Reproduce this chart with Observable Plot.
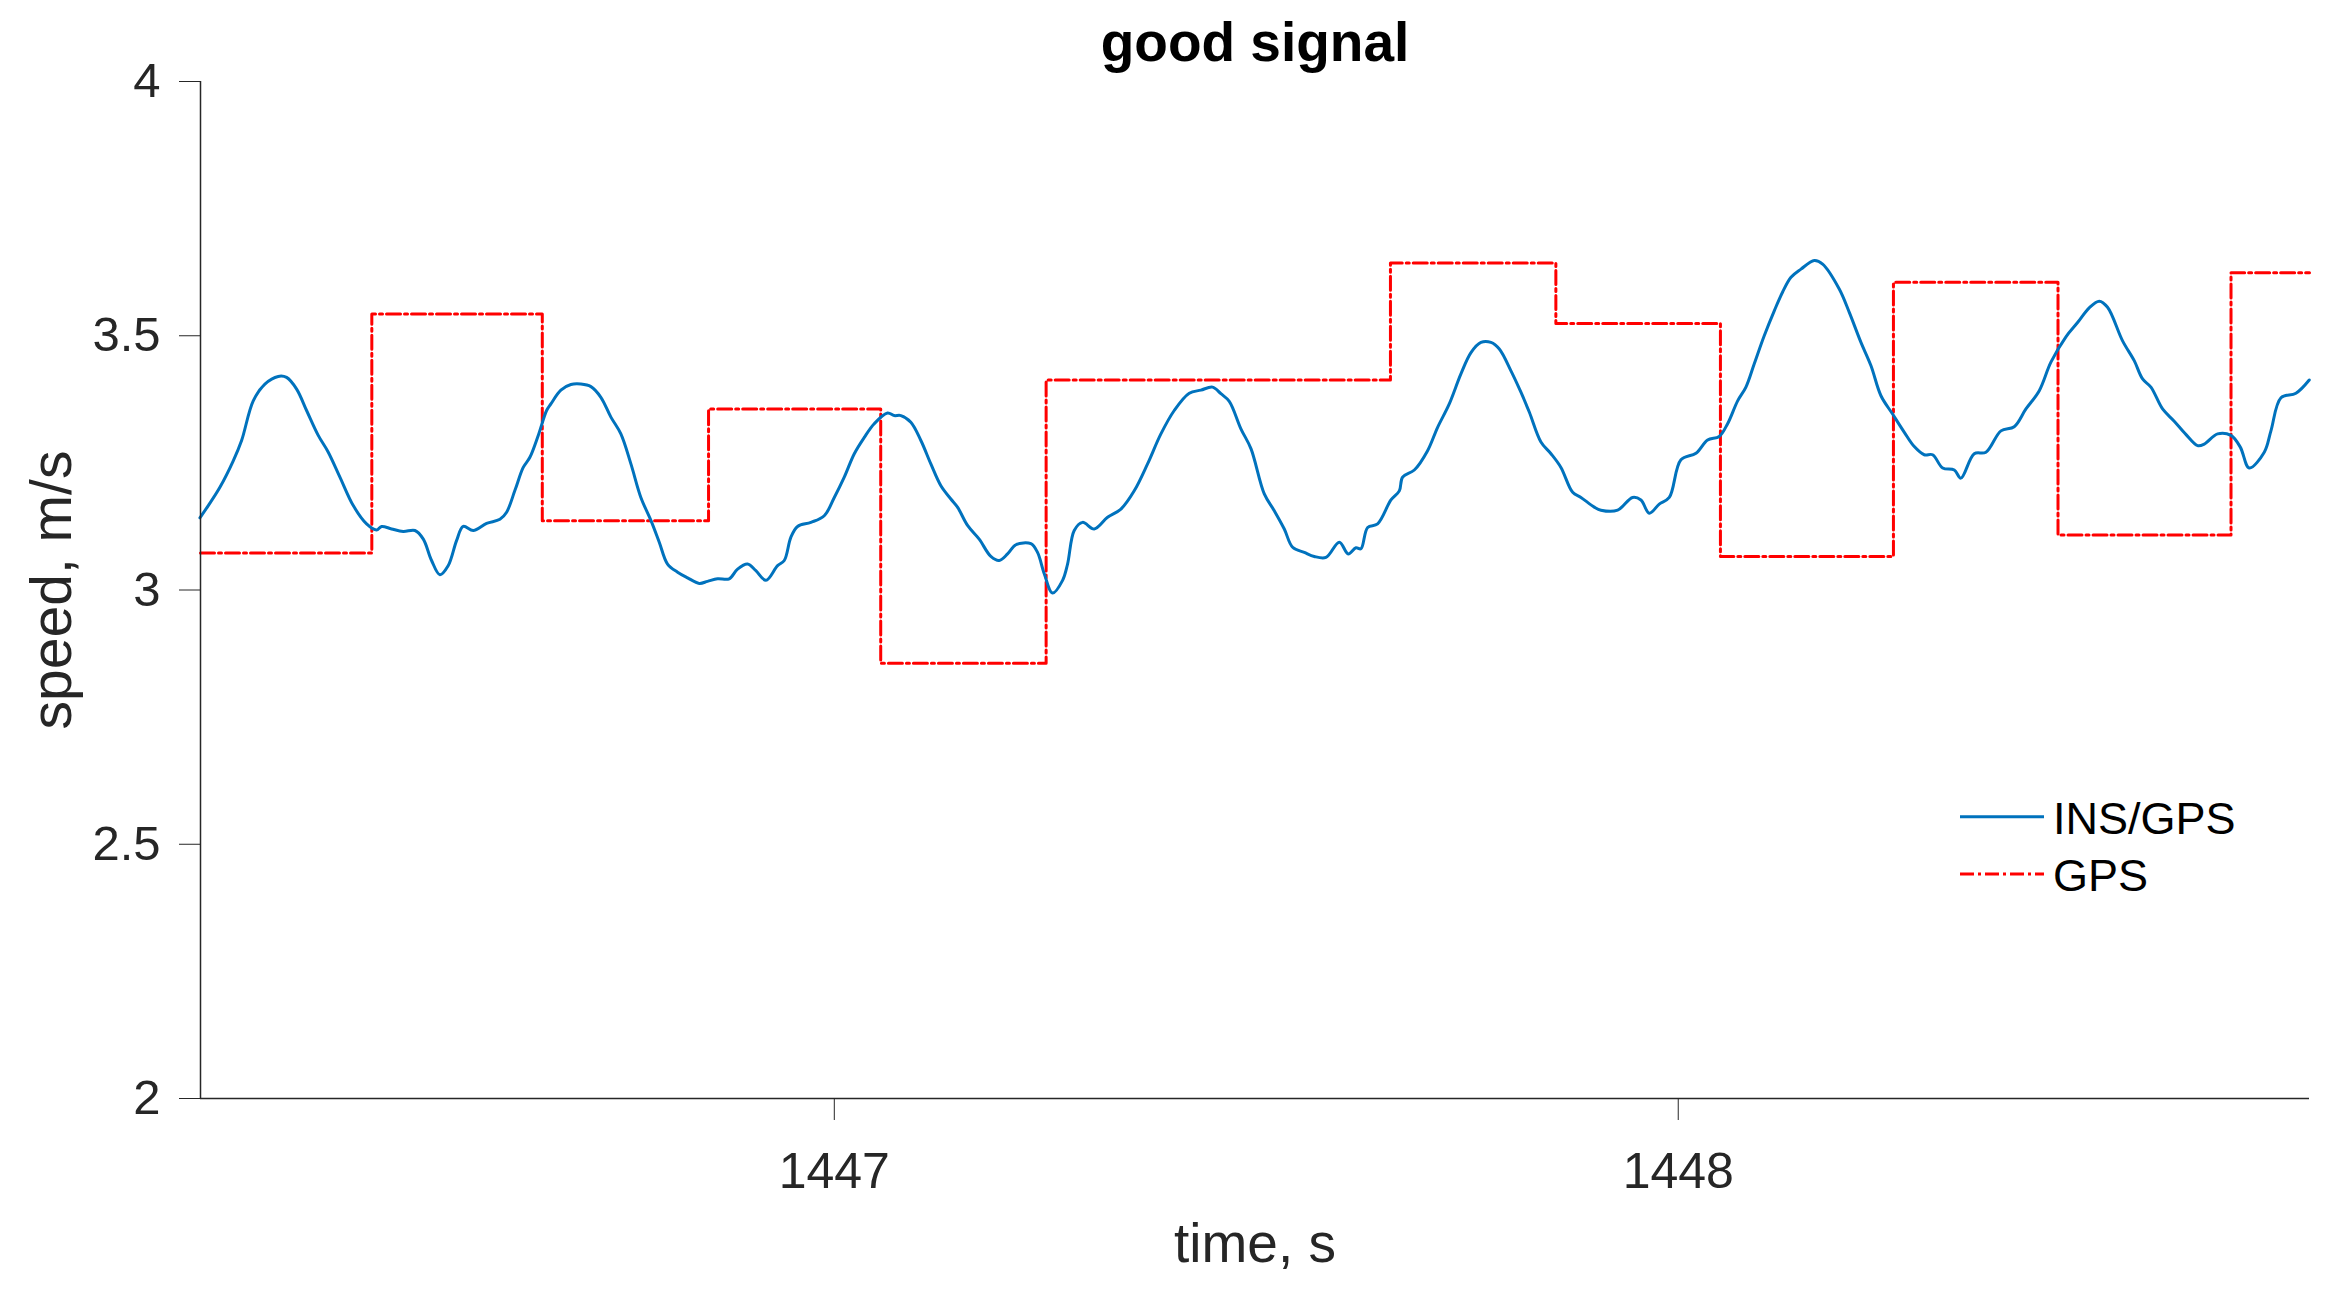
<!DOCTYPE html>
<html><head><meta charset="utf-8">
<script src="https://cdn.jsdelivr.net/npm/d3@7"></script>
<script src="https://cdn.jsdelivr.net/npm/@observablehq/plot@0.6"></script>
<style>
html,body{margin:0;padding:0;background:#fff;}
#chart{position:relative;width:2346px;height:1290px;font-family:"Liberation Sans",Arial,Helvetica,sans-serif;}
#legend{position:absolute;left:1940px;top:780px;pointer-events:none;}
</style></head><body><div id="chart"></div>
<script>
const titleText = "good signal";
const xLabel = "time, s";
const yLabel = "speed, m/s";
const seriesNames = ["INS/GPS", "GPS"];
const seriesColors = ["#0072BD", "#FF0000"];
const xDomain = [1446.249, 1448.748];
const yDomain = [2, 4];
const xTicks = [1447, 1448];
const yTicks = [2, 2.5, 3, 3.5, 4];

const insTime = [
1446.2483,1446.2582,1446.2720,1446.2878,1446.2977,1446.3115,1446.3253,1446.3411,1446.3510,1446.3629,
1446.3747,1446.3885,1446.4004,1446.4142,1446.4300,1446.4458,1446.4576,1446.4636,1446.4754,1446.4892,
1446.5031,1446.5130,1446.5228,1446.5327,1446.5426,1446.5524,1446.5603,1446.5722,1446.5880,1446.6038,
1446.6117,1446.6216,1446.6314,1446.6393,1446.6492,1446.6591,1446.6642,1446.6760,1446.6879,1446.6997,
1446.7116,1446.7234,1446.7353,1446.7471,1446.7590,1446.7708,1446.7827,1446.7926,1446.8024,1446.8143,
1446.8261,1446.8400,1446.8498,1446.8617,1446.8755,1446.8854,1446.8972,1446.9071,1446.9190,1446.9328,
1446.9407,1446.9486,1446.9565,1446.9723,1446.9881,1447.0000,1447.0118,1447.0237,1447.0355,1447.0473,
1447.0631,1447.0710,1447.0789,1447.0907,1447.1026,1447.1144,1447.1263,1447.1381,1447.1460,1447.1579,
1447.1717,1447.1855,1447.1954,1447.2053,1447.2152,1447.2329,1447.2408,1447.2488,1447.2586,1447.2705,
1447.2764,1447.2843,1447.2942,1447.3080,1447.3238,1447.3396,1447.3554,1447.3712,1447.3870,1447.4028,
1447.4206,1447.4344,1447.4482,1447.4581,1447.4680,1447.4818,1447.4937,1447.5095,1447.5213,1447.5332,
1447.5431,1447.5569,1447.5687,1447.5826,1447.5984,1447.6090,1447.6181,1447.6240,1447.6320,1447.6438,
1447.6596,1447.6695,1447.6734,1447.6873,1447.7030,1447.7149,1447.7287,1447.7425,1447.7544,1447.7662,
1447.7781,1447.7880,1447.8018,1447.8136,1447.8235,1447.8373,1447.8492,1447.8610,1447.8749,1447.8847,
1447.9005,1447.9084,1447.9282,1447.9459,1447.9558,1447.9657,1447.9775,1447.9894,1448.0032,1448.0210,
1448.0348,1448.0486,1448.0585,1448.0704,1448.0802,1448.0901,1448.1019,1448.1138,1448.1237,1448.1336,
1448.1454,1448.1612,1448.1711,1448.1908,1448.2027,1448.2165,1448.2284,1448.2402,1448.2540,1448.2679,
1448.2797,1448.2915,1448.3014,1448.3133,1448.3271,1448.3349,1448.3507,1448.3646,1448.3824,1448.3981,
1448.4120,1448.4278,1448.4416,1448.4594,1448.4732,1448.4870,1448.4989,1448.5087,1448.5265,1448.5403,
1448.5502,1448.5601,1448.5739,1448.5877,1448.6015,1448.6154,1448.6233,1448.6391,1448.6549,1448.6660,
1448.6766,1448.6944,1448.7023,1448.7142,1448.7319,1448.7477
];
const insSpeed = [
3.142,3.166,3.202,3.254,3.294,3.372,3.405,3.420,3.418,3.395,
3.353,3.304,3.271,3.222,3.166,3.130,3.118,3.125,3.120,3.115,
3.117,3.100,3.058,3.030,3.048,3.097,3.125,3.117,3.131,3.139,
3.153,3.196,3.241,3.261,3.304,3.353,3.366,3.393,3.404,3.405,
3.400,3.379,3.340,3.307,3.248,3.182,3.137,3.094,3.051,3.035,
3.024,3.013,3.017,3.022,3.022,3.041,3.051,3.038,3.019,3.048,
3.058,3.104,3.125,3.133,3.146,3.182,3.222,3.268,3.300,3.327,
3.348,3.343,3.343,3.330,3.294,3.248,3.205,3.179,3.163,3.127,
3.100,3.066,3.058,3.071,3.089,3.091,3.074,3.032,2.994,3.019,
3.051,3.117,3.133,3.120,3.143,3.159,3.195,3.248,3.307,3.353,
3.387,3.393,3.399,3.386,3.371,3.317,3.278,3.189,3.156,3.120,
3.084,3.074,3.066,3.064,3.094,3.071,3.083,3.081,3.123,3.130,
3.177,3.195,3.222,3.236,3.274,3.320,3.366,3.425,3.467,3.487,
3.487,3.474,3.431,3.389,3.350,3.291,3.268,3.241,3.192,3.182,
3.163,3.157,3.157,3.182,3.177,3.151,3.169,3.182,3.256,3.269,
3.295,3.302,3.327,3.372,3.399,3.445,3.500,3.549,3.586,3.615,
3.631,3.648,3.641,3.592,3.546,3.487,3.441,3.382,3.346,3.310,
3.282,3.266,3.266,3.240,3.236,3.220,3.268,3.271,3.313,3.321,
3.356,3.392,3.448,3.498,3.526,3.555,3.568,3.556,3.490,3.451,
3.415,3.399,3.356,3.332,3.306,3.284,3.287,3.307,3.304,3.281,
3.240,3.271,3.313,3.378,3.387,3.413
];

const gpsTime = [1446.249, 1446.452, 1446.654, 1446.851, 1447.055, 1447.251, 1447.453, 1447.659, 1447.855, 1448.050, 1448.255, 1448.450, 1448.655, 1448.748];
const gpsSpeed = [3.073, 3.543, 3.136, 3.356, 2.856, 3.413, 3.413, 3.643, 3.524, 3.066, 3.605, 3.108, 3.624, 3.624];

const ins = insTime.map((t, i) => ({t, v: insSpeed[i]}));
const gps = gpsTime.map((t, i) => ({t, v: gpsSpeed[i]}));

const font = '"Liberation Sans", Arial, Helvetica, sans-serif';
const axisColor = "#262626";

const plot = Plot.plot({
  width: 2346, height: 1290,
  marginLeft: 200, marginRight: 37, marginTop: 81, marginBottom: 192,
  style: {fontFamily: font, background: "#fff", color: axisColor, overflow: "visible"},
  x: {domain: xDomain},
  y: {domain: yDomain},
  marks: [
    Plot.line(gps, {x: "t", y: "v", curve: "step-after", stroke: seriesColors[1], strokeWidth: 3, strokeDasharray: "14,4,3,4", strokeLinejoin: "round"}),
    Plot.line(ins, {x: "t", y: "v", curve: "catmull-rom", stroke: seriesColors[0], strokeWidth: 3}),
    Plot.ruleX([xDomain[0]], {stroke: axisColor, strokeWidth: 1.5}),
    Plot.ruleY([yDomain[0]], {stroke: axisColor, strokeWidth: 1.5}),
    Plot.axisX({ticks: xTicks, tickFormat: d => String(d), tickSize: 22, tickPadding: 32, fontSize: 50, color: axisColor, label: null}),
    Plot.axisY({ticks: yTicks, tickFormat: d => String(d), tickSize: 21, tickPadding: 19, fontSize: 49, color: axisColor, label: null}),
    Plot.text([titleText], {text: d => d, frameAnchor: "top", textAnchor: "middle", lineAnchor: "middle", dy: -38.6, fontSize: 55, fontWeight: "bold", fill: "#000"}),
    Plot.text([xLabel], {text: d => d, frameAnchor: "bottom", textAnchor: "middle", lineAnchor: "middle", dy: 146, fontSize: 55, fill: axisColor}),
    Plot.text([yLabel], {text: d => d, frameAnchor: "left", textAnchor: "middle", lineAnchor: "middle", dx: -148, rotate: -90, fontSize: 57, fill: axisColor})
  ]
});
const chart = document.getElementById("chart");
chart.appendChild(plot);

// legend
const lg = d3.select(chart).append("svg").attr("id", "legend").attr("width", 400).attr("height", 150)
  .style("font-family", font);
const rows = seriesNames.map((name, i) => ({name, color: seriesColors[i], i}));
const row = lg.selectAll("g").data(rows).join("g").attr("transform", d => `translate(0,${36.7 + d.i * 57.3})`);
row.append("line").attr("x1", 20).attr("x2", 104).attr("y1", 0).attr("y2", 0)
  .attr("stroke", d => d.color).attr("stroke-width", 3)
  .attr("stroke-dasharray", d => d.i === 1 ? "14,4,3,4" : null);
row.append("text").attr("x", 113).attr("y", 17).attr("font-size", 45).attr("fill", "#000").text(d => d.name);
</script></body></html>
